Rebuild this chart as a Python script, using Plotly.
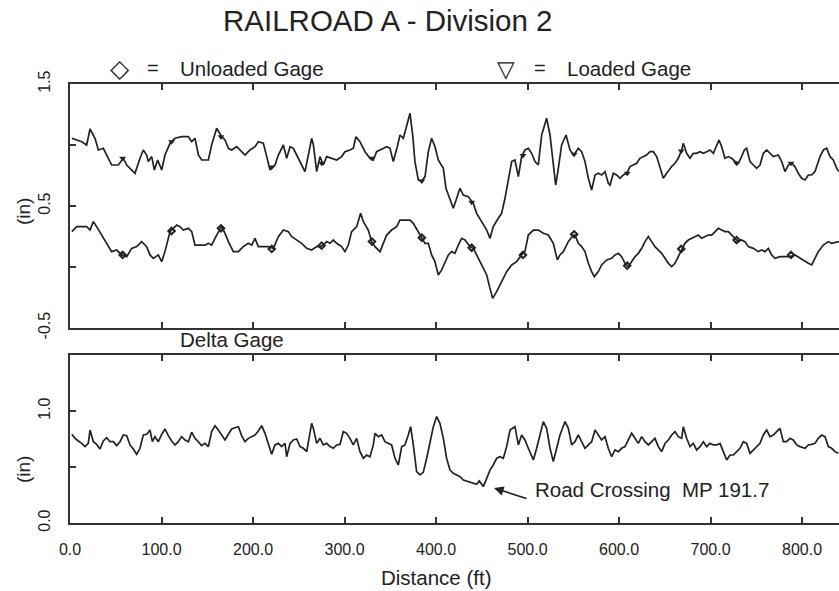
import plotly.graph_objects as go

# ---------------- data (distance in ft, gage in inches) ----------------
loaded_dist = [2, 7.3, 12.8, 18.2, 21.9, 27.3, 31, 36.4, 40.1, 45.5, 52.8, 58.3, 62, 67.4, 71, 76.5, 80.1, 83.8, 85.6, 89.3,
               92.2, 95.8, 100.2, 103.8, 109.3, 114.8, 122, 129.3, 133, 136.6, 140.3, 143.9, 151.2, 154.8, 160.3, 165.8, 169.4, 173.1, 176.7, 182.2,
               187.6, 191.3, 196.7, 202.2, 205.8, 211.3, 215, 218.6, 224, 227.7, 233.2, 236.8, 240.5, 244.1, 247.7, 251.4, 256.8, 260.5, 264.1, 266, 269.6,
               273.2, 276.8, 280.5, 285.9, 291.4, 296.9, 300.5, 306, 309.6, 312.5, 316.9, 322.4, 327.8, 331.5, 335.1, 338.8, 342.4, 346.1, 349.7, 353.3,
               357.7, 360.6, 364.3, 367.9, 371.6, 374.5, 377, 380.7, 384.3, 388, 391.6, 395.2, 398.9, 402.5, 408, 410.9, 413.5, 416, 418.9, 422.6,
               426.2, 429.9, 435.3, 440.8, 444.4, 449.9, 455.4, 459, 462.6, 468.1, 471.7, 475.4, 479, 482.7, 486.3, 490, 493.6, 497.2, 500.9, 504.5,
               508.2, 511.8, 515.5, 520.9, 524.6, 528.2, 530.8, 533.7, 537.3, 542.1, 546.4, 550.1,
               551.9, 555.5, 559.2, 562.8, 566.5, 570.1, 573.8, 577.4, 581, 584.7, 588.3, 590.2, 593.8, 597.4, 601.1, 604.7, 608.4, 612, 615.7, 619.3,
               622.9, 626.6, 630.2, 633.9, 637.5, 641.2, 644.8, 648.4, 652.1, 657.5, 661.2, 664.8, 668.5, 670.3, 673.9, 677.6, 681.2, 684.9, 688.5, 692.2,
               695.8, 699.4, 703.1, 706.7, 709.3, 712.2, 715.8, 719.5, 723.1, 726.8, 730.4, 734, 737, 739.5, 743.2, 746.8, 750.4, 754.1, 757.7, 761.4,
               765, 768.7, 774.1, 777.8, 781.4, 785.1, 788.7, 792.3, 796, 799.6, 803.3, 806.9, 810.6, 814.2, 819.7, 823.3, 827, 830.6, 834.2, 837.9, 840.4]
loaded_gage = [1.055, 1.041, 1.027, 1.0, 1.131, 1.055, 0.959, 0.973, 0.918, 0.836, 0.836, 0.891, 0.836, 0.795, 0.768, 0.891, 0.959, 0.918, 0.864, 0.905,
               0.795, 0.877, 0.795, 0.918, 1.014, 1.055, 1.068, 1.068, 1.027, 1.055, 0.918, 0.877, 0.877, 1.0, 1.137, 1.068, 1.041, 0.973, 0.959, 0.986,
               0.945, 0.918, 0.959, 0.986, 1.027, 1.014, 0.905, 0.795, 0.836, 0.918, 1.0, 0.891, 0.986, 0.973, 0.918, 0.864, 0.782, 0.918, 1.055, 1.0, 0.782,
               0.905, 0.836, 0.905, 0.891, 0.877, 0.905, 0.945, 0.959, 0.973, 1.068, 1.027, 0.945, 0.891, 0.877, 0.945, 0.959, 0.973, 0.986, 0.973, 0.864,
               0.986, 1.082, 1.055, 1.164, 1.26, 1.082, 0.864, 0.713, 0.70, 0.741, 0.945, 1.055, 0.986, 0.877, 0.809, 0.645, 0.590, 0.536, 0.481, 0.563,
               0.645, 0.590, 0.577, 0.522, 0.440, 0.372, 0.303, 0.235, 0.331, 0.399, 0.440, 0.563, 0.727, 0.864, 0.877, 0.741, 0.905, 0.959, 0.973, 0.932,
               0.864, 0.836, 1.082, 1.219, 1.082, 0.809, 0.672, 0.809, 1.0, 1.082, 0.959, 0.918,
               0.932, 0.973, 0.945, 0.864, 0.727, 0.631, 0.754, 0.768, 0.754, 0.782, 0.686, 0.672, 0.768, 0.754, 0.727, 0.754, 0.768, 0.823, 0.836, 0.850,
               0.891, 0.905, 0.918, 0.945, 0.945, 0.905, 0.809, 0.727, 0.768, 0.823, 0.850, 0.891, 0.959, 1.014, 0.932, 0.891, 0.932, 0.932, 0.945, 0.932,
               0.945, 0.959, 0.932, 1.0, 1.041, 0.986, 0.891, 0.905, 0.891, 0.864, 0.850, 0.905, 0.959, 0.973, 0.864, 0.836, 0.809, 0.836, 0.932, 0.959,
               0.932, 0.905, 0.918, 0.864, 0.782, 0.836, 0.850, 0.823, 0.768, 0.727, 0.713, 0.754, 0.754, 0.782, 0.905, 0.959, 0.973, 0.905, 0.877, 0.809, 0.782]

unloaded_dist = [2, 7.3, 12.8, 18.2, 21.9, 25.5, 29.1, 34.6, 40.1, 45.5, 51, 56.5, 62, 67.4, 72.9, 78.3, 83.8, 87.4, 91.1, 96.5,
                 100.2, 103.8, 109.3, 112.9, 116.6, 120.2, 123.9, 129.3, 133, 136.6, 142.1, 147.5, 151.2, 154.8, 160.3, 165.8, 169.4, 173.1, 178.5, 184,
                 189.4, 194.9, 198.6, 202.2, 205.8, 211.3, 216.8, 222.2, 227.7, 233.2, 238.6, 242.3, 247.7, 253.2, 258.7, 264.1, 269.6,
                 273.2, 276.8, 280.5, 284.1, 287.8, 291.4, 296.9, 300.5, 304.2, 307.8, 313.3, 317.6, 320.6, 326, 329.7, 333.3, 338.8, 342.4, 346.1, 351.5,
                 357, 360.6, 366.1, 371.6, 375.2, 380.7, 384.3, 388, 391.6, 395.2, 398.9, 402.5, 406.2, 409.8, 413.5, 417.1, 420.7, 424.4, 428, 431.7,
                 437.1, 440.8, 444.4, 449.9, 455.4, 459, 461.9, 466.3, 471.7, 477.2, 482.7, 488.1, 493.6, 497.2, 500.9, 506.4, 511.8, 517.3, 522.7, 528.2,
                 532.6, 535.5, 539.1, 544.6, 550.1,
                 551.9, 555.5, 559.2, 562.8, 566.5, 570.1, 573, 577.4, 581, 586.5, 592, 595.6, 599.3, 602.9, 606.5, 610.2, 613.8, 617.5, 621.1, 624.8,
                 628.4, 632.1, 635.7, 639.3, 643, 646.6, 650.3, 653.9, 657.6, 661.2, 664.8, 668.5, 672.1, 675.8, 679.4, 683.1, 686.7, 690.3, 694, 697.6,
                 701.3, 704.9, 708.6, 712.2, 715.8, 719.5, 723.1, 726.8, 730.4, 734, 737.7, 741.3, 746.8, 752.3, 755.9, 759.6, 763.2, 766.8, 770.5, 775.9,
                 781.4, 786.9, 792.3, 797.8, 803.3, 806.9, 810.6, 814.2, 817.8, 823.3, 828.8, 832.4, 837.9, 840.4]
unloaded_gage = [0.290, 0.331, 0.331, 0.331, 0.303, 0.372, 0.331, 0.262, 0.194, 0.126, 0.139, 0.099, 0.085, 0.153, 0.167, 0.208, 0.167, 0.099, 0.071, 0.099,
                 0.044, 0.126, 0.290, 0.317, 0.344, 0.331, 0.303, 0.317, 0.290, 0.180, 0.180, 0.180, 0.194, 0.180, 0.262, 0.331, 0.276, 0.208, 0.126, 0.126,
                 0.167, 0.194, 0.180, 0.235, 0.167, 0.167, 0.167, 0.153, 0.249, 0.303, 0.290, 0.249, 0.221, 0.194, 0.153, 0.139, 0.167,
                 0.167, 0.180, 0.208, 0.194, 0.221, 0.194, 0.167, 0.126, 0.180, 0.290, 0.331, 0.440, 0.372, 0.303, 0.208, 0.167, 0.126, 0.194, 0.262, 0.303,
                 0.331, 0.385, 0.385, 0.385, 0.358, 0.290, 0.249, 0.194, 0.194, 0.099, 0.044, -0.065, -0.024, 0.044, 0.099, 0.126, 0.112, 0.180, 0.235, 0.221,
                 0.167, 0.153, 0.099, 0.030, -0.065, -0.175, -0.257, -0.202, -0.120, -0.038, 0.017, 0.044, 0.099, 0.126, 0.262, 0.303, 0.303, 0.276, 0.262, 0.194,
                 0.058, 0.099, 0.126, 0.208, 0.262,
                 0.262, 0.194, 0.167, 0.126, 0.030, -0.038, -0.079, -0.038, 0.017, 0.058, 0.071, 0.099, 0.112, 0.085, 0.030, 0.003, 0.044, 0.085, 0.112, 0.153,
                 0.208, 0.249, 0.208, 0.167, 0.139, 0.112, 0.071, 0.030, 0.003, 0.030, 0.085, 0.139, 0.194, 0.221, 0.235, 0.249, 0.262, 0.235, 0.249, 0.262,
                 0.262, 0.290, 0.317, 0.303, 0.290, 0.290, 0.262, 0.235, 0.208, 0.221, 0.208, 0.167, 0.153, 0.126, 0.139, 0.126, 0.153, 0.099, 0.071, 0.085,
                 0.085, 0.085, 0.099, 0.071, 0.044, 0.030, 0.017, 0.071, 0.126, 0.180, 0.208, 0.194, 0.208, 0.208]

delta_dist = [2, 5.5, 9.1, 12.8, 16.4, 20, 21.9, 25.5, 29.1, 32.8, 36.4, 40.1, 43.7, 47.4, 51, 54.7, 58.3, 62, 65.6, 69.2,
              72.9, 76.5, 80.1, 83.8, 87.4, 90, 92.9, 96.5, 100.2, 103.8, 107.5, 111.1, 114.8, 118.4, 122, 125.7, 129.3, 133, 136.6, 140.3,
              143.9, 147.5, 151.2, 154.8, 158.5, 162.1, 165.8, 169.4, 173.1, 176.7, 180.3, 184, 187.6, 191.3, 194.9, 198.6, 202.2, 205.8, 209.5, 213.1,
              216.8, 220.4, 224, 227.7, 231.3, 235, 236.8, 240.5, 244.1, 247.7, 251.4, 255, 258.7, 261.6, 264.1, 266, 269.6,
              273.2, 276.8, 280.5, 284.1, 287.8, 291.4, 295.1, 298.7, 302.3, 306, 309.6, 313.3, 316.9, 320.6, 324.2, 327.8, 331.5, 333.3, 337, 340.6,
              344.2, 347.9, 351.5, 355.2, 358.8, 362.5, 366.1, 369.7, 372.3, 375.2, 378.8, 382.5, 386.1, 389.8, 393.4, 397.1, 400.7, 404.3, 408, 411.6,
              415.3, 418.9, 422.6, 426.2, 429.9, 433.5, 437.1, 440.8, 444.4, 447.3, 451.7, 455.4, 459, 462.6, 466.3, 469.9, 473.6, 477.2, 480.9, 486.3,
              490, 493.6, 497.2, 500.9, 506.4, 510, 513.6, 517.3, 520.9, 524.6, 528.2, 531.9, 535.5, 541, 544.6, 548.3,
              551.9, 555.5, 559.2, 562.8, 566.5, 570.1, 573.8, 577.4, 581, 584.7, 588.3, 592, 595.6, 599.3, 602.9, 606.5, 610.2, 613.8, 617.5, 621.1,
              624.8, 628.4, 632.1, 635.7, 639.3, 643, 646.6, 650.3, 653.9, 657.6, 661.2, 664.8, 668.5, 670.3, 673.9, 677.6, 681.2, 684.9, 688.5, 692.2,
              695.8, 699.4, 703.1, 706.7, 710.4, 714, 717.7, 721.3, 725, 728.6, 732.2, 735.9, 739.5, 743.2, 746.8, 750.4, 754.1, 757.7, 761.4, 765,
              768.7, 772.3, 775.9, 779.6, 783.2, 786.9, 790.5, 794.2, 797.8, 803.3, 806.9, 810.6, 814.2, 817.8, 821.5, 825.1, 828.8, 832.4, 836, 839.7]
delta_gage = [0.792, 0.756, 0.732, 0.711, 0.682, 0.711, 0.830, 0.726, 0.702, 0.661, 0.732, 0.762, 0.726, 0.726, 0.691, 0.726, 0.786, 0.780, 0.697, 0.661,
              0.613, 0.667, 0.786, 0.792, 0.830, 0.726, 0.771, 0.726, 0.792, 0.839, 0.780, 0.732, 0.697, 0.726, 0.771, 0.741, 0.726, 0.810, 0.756, 0.726,
              0.691, 0.711, 0.682, 0.816, 0.869, 0.830, 0.780, 0.741, 0.792, 0.839, 0.851, 0.860, 0.780, 0.726, 0.756, 0.771, 0.786, 0.822, 0.869, 0.801,
              0.702, 0.613, 0.697, 0.711, 0.682, 0.711, 0.592, 0.711, 0.741, 0.750, 0.682, 0.667, 0.637, 0.771, 0.890, 0.845, 0.711,
              0.756, 0.697, 0.711, 0.682, 0.667, 0.697, 0.702, 0.816, 0.801, 0.756, 0.697, 0.756, 0.637, 0.578, 0.607, 0.592, 0.697, 0.801, 0.771, 0.786,
              0.726, 0.711, 0.697, 0.578, 0.518, 0.682, 0.697, 0.786, 0.860, 0.697, 0.458, 0.429, 0.452, 0.578, 0.726, 0.860, 0.950, 0.890, 0.756, 0.578,
              0.473, 0.444, 0.429, 0.414, 0.384, 0.375, 0.363, 0.354, 0.345, 0.375, 0.325, 0.399, 0.473, 0.518, 0.578, 0.592, 0.578, 0.682, 0.830, 0.860,
              0.697, 0.786, 0.741, 0.667, 0.563, 0.667, 0.786, 0.905, 0.845, 0.667, 0.548, 0.667, 0.786, 0.905, 0.845, 0.697,
              0.726, 0.786, 0.726, 0.667, 0.697, 0.726, 0.830, 0.786, 0.741, 0.771, 0.667, 0.592, 0.652, 0.637, 0.667, 0.682, 0.741, 0.801, 0.756, 0.711,
              0.771, 0.726, 0.697, 0.726, 0.756, 0.682, 0.637, 0.711, 0.741, 0.786, 0.816, 0.771, 0.756, 0.860, 0.756, 0.682, 0.711, 0.652, 0.682, 0.726,
              0.682, 0.711, 0.697, 0.697, 0.711, 0.637, 0.563, 0.607, 0.607, 0.637, 0.667, 0.726, 0.711, 0.622, 0.652, 0.682, 0.711, 0.786, 0.830, 0.771,
              0.786, 0.816, 0.845, 0.726, 0.726, 0.756, 0.741, 0.697, 0.682, 0.667, 0.697, 0.702, 0.711, 0.756, 0.786, 0.771, 0.682, 0.667, 0.637, 0.622]

marker_dist = [57.5, 111, 165, 220.5, 275, 330, 384.5, 439, 495, 551, 609, 668, 728.5, 788]
loaded_marker_gage = [0.891, 1.027, 1.068, 0.82, 0.85, 0.891, 0.705, 0.53, 0.913, 0.924, 0.768, 0.95, 0.85, 0.85]
unloaded_marker_gage = [0.099, 0.295, 0.317, 0.148, 0.175, 0.208, 0.24, 0.158, 0.099, 0.268, 0.011, 0.148, 0.221, 0.099]

x_ticks = [0, 100, 200, 300, 400, 500, 600, 700, 800]
x_tick_text = ["0.0", "100.0", "200.0", "300.0", "400.0", "500.0", "600.0", "700.0", "800.0"]
top_y_ticks = [-0.5, 0.0, 0.5, 1.0, 1.5]
top_y_text = ["-0.5", "", "0.5", "", "1.5"]
bot_y_ticks = [0.0, 0.5, 1.0, 1.5]
bot_y_text = ["0.0", "", "1.0", ""]

# ---------------- figure ----------------
INK = "#222222"
FONT = "Liberation Sans, Arial, sans-serif"
W, H, L = 839, 591, 70

def px(x):
    return (x - L) / (W - L)

def py(y):
    return 1 - y / H

fig = go.Figure()
line_style = dict(color=INK, width=1.7)
fig.add_trace(go.Scatter(x=loaded_dist, y=loaded_gage, mode="lines", line=line_style, xaxis="x", yaxis="y"))
fig.add_trace(go.Scatter(x=unloaded_dist, y=unloaded_gage, mode="lines", line=line_style, xaxis="x", yaxis="y"))
fig.add_trace(go.Scatter(x=marker_dist, y=loaded_marker_gage, mode="markers",
                         marker=dict(symbol="triangle-down", size=6, color=INK), xaxis="x", yaxis="y"))
fig.add_trace(go.Scatter(x=marker_dist, y=unloaded_marker_gage, mode="markers",
                         marker=dict(symbol="diamond-open", size=5, color=INK, line=dict(width=2)), xaxis="x", yaxis="y"))
fig.add_trace(go.Scatter(x=delta_dist, y=delta_gage, mode="lines", line=line_style, xaxis="x2", yaxis="y2"))

x_range = [0, (W - L) / 0.915]
common_x = dict(range=x_range, showline=True, linecolor="#333", linewidth=2, mirror="ticks",
                ticks="inside", ticklen=6, tickcolor="#333", tickwidth=1.5, tickvals=x_ticks,
                showgrid=False, zeroline=False, domain=[0, 1])
common_y = dict(showline=True, linecolor="#333", linewidth=2, ticks="inside", ticklen=6, tickcolor="#333",
                tickwidth=1.5, tickangle=-90, showgrid=False, zeroline=False,
                tickfont=dict(family=FONT, size=16, color=INK), ticklabelstandoff=12)

fig.update_layout(
    width=W, height=H,
    margin=dict(l=L, r=0, t=0, b=0, autoexpand=False),
    paper_bgcolor="white", plot_bgcolor="white",
    showlegend=False,
    xaxis=dict(common_x, anchor="y", showticklabels=False),
    yaxis=dict(common_y, domain=[py(328), py(84)], range=[-0.5, 1.5], tickvals=top_y_ticks, ticktext=top_y_text),
    xaxis2=dict(common_x, anchor="y2", ticktext=x_tick_text, ticklabelstandoff=11,
                tickfont=dict(family=FONT, size=16, color=INK)),
    yaxis2=dict(common_y, domain=[py(523), py(355)], range=[0, 1.5], tickvals=bot_y_ticks, ticktext=bot_y_text),
)

ann = []
def text(x, y, s, size, xanchor="center", angle=0):
    ann.append(dict(x=px(x), y=py(y), xref="paper", yref="paper", text=s,
                    showarrow=False, xanchor=xanchor, yanchor="middle", textangle=angle,
                    font=dict(family=FONT, size=size, color=INK)))

text(388, 21, "RAILROAD A - Division 2", 29.5)
text(120, 68, "◇", 25)
text(153, 68, "=", 20)
text(178, 68, "Unloaded Gage", 20.5, xanchor="left")
text(506, 69, "▽", 23)
text(540, 68, "=", 20)
text(565, 68, "Loaded Gage", 20.5, xanchor="left")
text(178, 339, "Delta Gage", 20.5, xanchor="left")
text(23, 212, "(in)", 19, angle=-90)
text(23, 470, "(in)", 19, angle=-90)
text(436, 577, "Distance (ft)", 20.5)

# Road crossing annotation (data coordinates of bottom panel)
ann.append(dict(x=463.4, y=0.3125, xref="x2", yref="y2", ax=500.5, ay=0.214, axref="x2", ayref="y2",
                text="", showarrow=True, arrowhead=2, arrowsize=1.2, arrowwidth=1.6, arrowcolor=INK))
ann.append(dict(x=506, y=0.295, xref="x2", yref="y2", text="Road Crossing  MP 191.7", showarrow=False,
                xanchor="left", yanchor="middle", font=dict(family=FONT, size=20.5, color=INK)))

fig.update_layout(annotations=ann)
fig.write_html("out.html")
